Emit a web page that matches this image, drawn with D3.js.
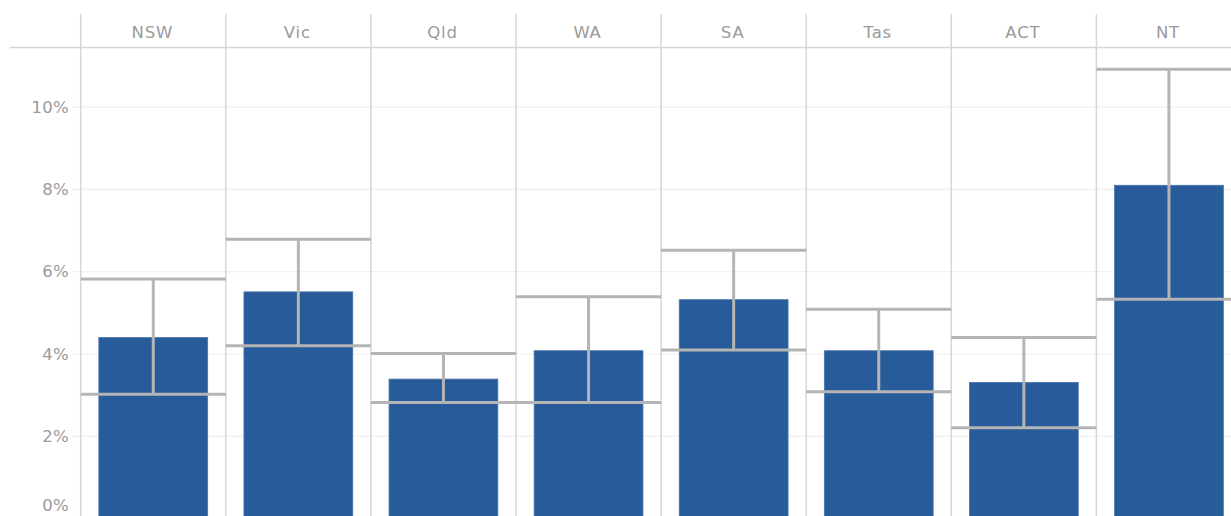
<!DOCTYPE html>
<html><head><meta charset="utf-8">
<script src="https://cdn.jsdelivr.net/npm/d3@7"></script>
<style>
html,body{margin:0;padding:0;background:#fff;overflow:hidden}
svg{display:block}
text{font-family:"DejaVu Sans",sans-serif;fill:#9a9a9a}
</style></head>
<body>
<svg id="c" width="1231" height="516"></svg>
<script>
const states = ["NSW","Vic","Qld","WA","SA","Tas","ACT","NT"];
const rate   = [4.40, 5.51, 3.39, 4.08, 5.32, 4.08, 3.31, 8.10];
const upper  = [5.82, 6.79, 4.01, 5.39, 6.52, 5.09, 4.40, 10.92];
const lower  = [3.02, 4.20, 2.82, 2.82, 4.10, 3.08, 2.21, 5.33];
const yTicks = [0, 2, 4, 6, 8, 10];

const W = 1231, H = 516;
const svg = d3.select("#c");
const panelW = 145.1, left = 80.7, headerTop = 14, headerLine = 47.5;

const x = d3.scaleBand().domain(states).range([left, left + panelW*states.length]).padding(0);
const y = d3.scaleLinear().domain([0, 10]).range([518.6, 107.1]);

// gridlines
svg.append("g").selectAll("line").data(yTicks.filter(d=>d>0)).join("line")
  .attr("x1", 72).attr("x2", W).attr("y1", d=>y(d)).attr("y2", d=>y(d))
  .attr("stroke", "#f0f0f0").attr("stroke-width", 1.2);

// y axis labels
const yAxis = d3.axisLeft(y).tickValues(yTicks).tickFormat(d=>d+"%").tickSize(0).tickPadding(0);
const ya = svg.append("g").attr("transform", "translate(69,0)").call(yAxis);
ya.select(".domain").remove();
ya.selectAll("text").attr("font-size", 16.5).attr("letter-spacing", 0.3)
  .style("font-family", '"DejaVu Sans",sans-serif').attr("fill", "#9a9a9a");
ya.selectAll(".tick").filter(d=>d===0).select("text").attr("dy", "-0.5em");

// bars
svg.append("g").selectAll("rect").data(states).join("rect")
  .attr("x", (d)=>x(d) + x.bandwidth()*0.125)
  .attr("width", x.bandwidth()*0.75)
  .attr("y", (d,i)=>y(rate[i]))
  .attr("height", (d,i)=>y(0)-y(rate[i]))
  .attr("fill", "#275B99").attr("stroke", "#4a76ad").attr("stroke-width", 0.8);

// panel dividers
svg.append("g").selectAll("line").data(states).join("line")
  .attr("x1", d=>x(d)).attr("x2", d=>x(d)).attr("y1", headerTop).attr("y2", H)
  .attr("stroke", "#d6d6d6").attr("stroke-width", 1.5);

// header line
svg.append("line").attr("x1", 10).attr("x2", W).attr("y1", headerLine).attr("y2", headerLine)
  .attr("stroke", "#d6d6d6").attr("stroke-width", 1.5);

// header labels
svg.append("g").selectAll("text").data(states).join("text")
  .attr("x", d=>x(d)+x.bandwidth()/2 - 1).attr("y", 38)
  .attr("text-anchor", "middle").attr("font-size", 16.5).attr("letter-spacing", 0.8)
  .text(d=>d);

// error bars
const eb = svg.append("g").attr("stroke", "#b5b5b5").attr("stroke-width", 3);
eb.selectAll(".hu").data(states).join("line")
  .attr("x1", d=>x(d)).attr("x2", d=>x(d)+x.bandwidth())
  .attr("y1", (d,i)=>y(upper[i])).attr("y2", (d,i)=>y(upper[i]));
eb.selectAll(".hl").data(states).join("line")
  .attr("x1", d=>x(d)).attr("x2", d=>x(d)+x.bandwidth())
  .attr("y1", (d,i)=>y(lower[i])).attr("y2", (d,i)=>y(lower[i]));
eb.selectAll(".v").data(states).join("line")
  .attr("x1", d=>x(d)+x.bandwidth()/2).attr("x2", d=>x(d)+x.bandwidth()/2)
  .attr("y1", (d,i)=>y(upper[i])).attr("y2", (d,i)=>y(lower[i]));
</script>
</body></html>
